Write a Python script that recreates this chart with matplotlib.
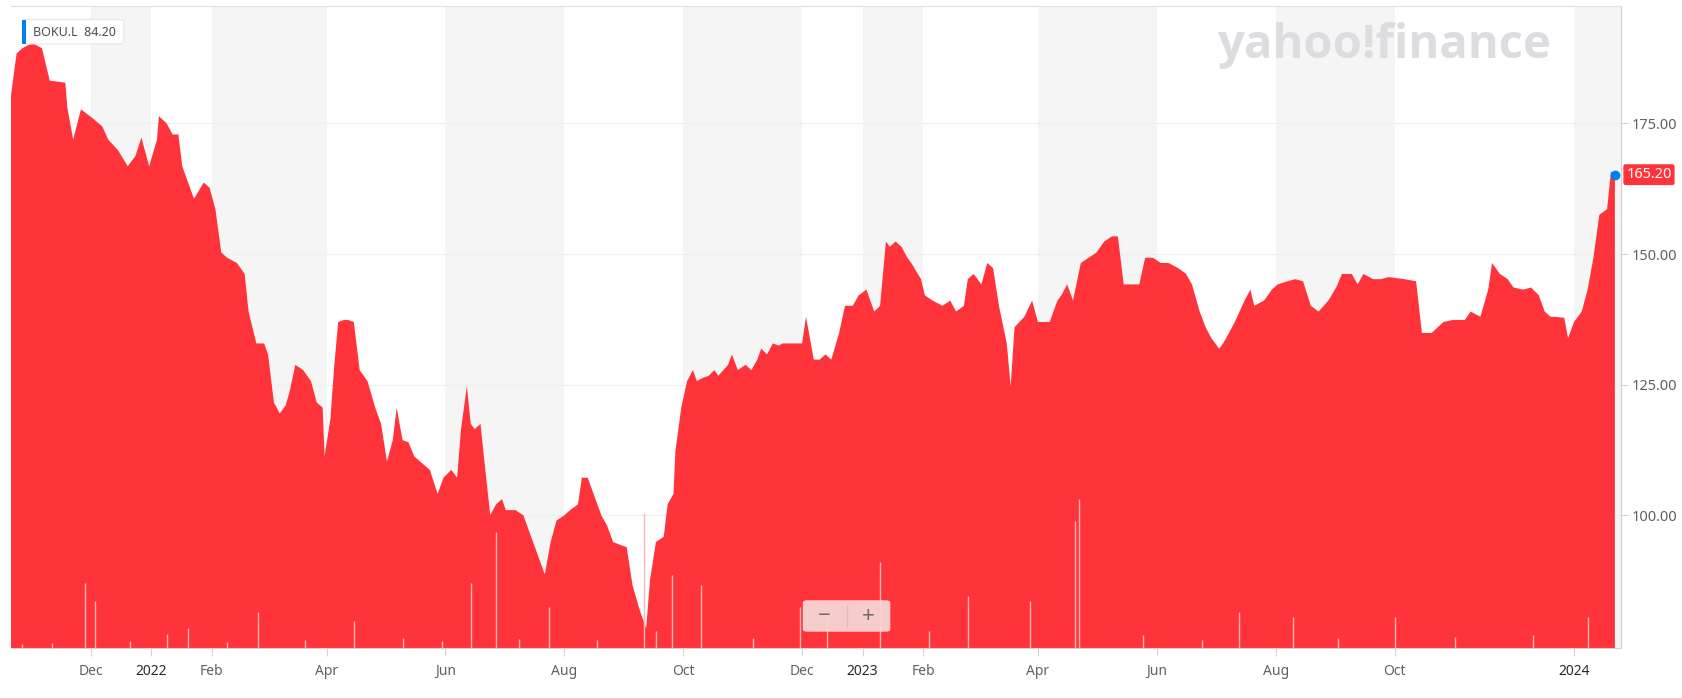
import datetime as dt
import matplotlib
matplotlib.use("Agg")
import matplotlib.pyplot as plt
import matplotlib.dates as mdates
from matplotlib.patches import FancyBboxPatch, Rectangle

plt.rcParams['font.family'] = ['Noto Sans', 'DejaVu Sans']

# price series: days since 2021-12-01, close (GBp)
day = [-41, -38, -35, -30, -25, -21, -13, -12, -9, -5, 1, 6, 9, 14, 19, 23, 26, 30, 34, 35,
       39, 42, 45, 47, 50, 53, 58, 61, 64, 67, 70, 75, 79, 81, 85, 89, 91, 94, 97, 100,
       102, 105, 109, 113, 116, 119, 120, 123, 125, 127, 130, 132, 135, 138, 142, 146, 149, 152, 155, 157,
       160, 163, 166, 169, 174, 178, 181, 185, 188, 190, 193, 195, 197, 200, 202, 205, 208, 211, 213, 218,
       222, 225, 229, 233, 236, 239, 243, 246, 250, 252, 255, 259, 262, 265, 268, 272, 275, 278, 282, 284,
       285, 287, 290, 294, 296, 299, 300, 303, 306, 309, 311, 314, 317, 320, 322, 327, 329, 332, 336, 339,
       342, 344, 347, 350, 353, 355, 361, 365, 367, 371, 374, 377, 380, 384, 387, 391, 394, 398, 402, 405,
       408, 410, 413, 416, 419, 421, 426, 428, 432, 437, 441, 444, 448, 450, 453, 457, 460, 463, 466, 470,
       472, 474, 479, 483, 486, 492, 496, 498, 501, 504, 508, 512, 516, 520, 524, 527, 530, 534, 538, 541,
       545, 549, 553, 558, 562, 565, 569, 572, 575, 579, 581, 584, 587, 592, 595, 597, 602, 606, 609, 614,
       618, 622, 626, 630, 635, 639, 642, 647, 650, 653, 658, 662, 666, 674, 680, 683, 688, 694, 699, 705,
       708, 713, 717, 719, 723, 727, 730, 735, 739, 743, 746, 749, 751, 756, 758, 761, 765, 768, 771, 774,
       778, 780, 782]
close = [180.1, 188.4, 189.4, 190.4, 189.4, 183.2, 182.8, 178.1, 171.9, 177.7, 176.0, 174.4, 171.9, 169.9, 166.8, 168.8, 172.3, 166.8, 171.9, 176.4,
         175.0, 172.9, 172.9, 166.8, 163.7, 160.6, 163.7, 162.7, 158.6, 150.3, 149.3, 148.3, 146.2, 139.0, 132.9, 132.9, 130.8, 121.6, 119.5, 121.0,
         123.6, 128.8, 127.8, 125.7, 121.6, 120.6, 111.3, 118.5, 128.8, 137.0, 137.4, 137.4, 137.0, 127.8, 125.7, 120.6, 117.5, 110.3, 114.4, 120.6,
         114.4, 114.0, 111.3, 110.3, 108.7, 104.1, 107.2, 108.7, 107.2, 116.5, 124.7, 117.5, 116.5, 117.5, 110.3, 100.0, 102.1, 103.1, 101.0, 101.0,
         100.0, 96.9, 92.8, 88.7, 94.9, 99.0, 100.0, 101.0, 102.1, 107.2, 107.2, 103.1, 100.0, 98.0, 94.9, 94.3, 93.9, 86.6, 81.5, 79.5,
         78.4, 87.7, 94.9, 95.9, 102.1, 104.1, 112.3, 120.6, 125.7, 127.8, 125.7, 126.3, 126.7, 127.8, 126.7, 128.8, 130.8, 127.8, 128.8, 127.8,
         129.8, 131.9, 130.8, 132.9, 132.5, 132.9, 132.9, 132.9, 138.0, 129.8, 129.8, 130.8, 129.8, 134.9, 140.1, 140.1, 142.1, 143.2, 139.0, 140.1,
         152.4, 151.4, 152.4, 151.4, 149.3, 148.3, 145.2, 142.1, 141.1, 140.1, 141.1, 139.0, 140.1, 145.2, 146.2, 144.2, 148.3, 147.3, 140.1, 132.9,
         124.7, 136.0, 138.0, 141.1, 137.0, 137.0, 141.1, 142.1, 144.2, 141.1, 148.3, 149.3, 150.3, 152.4, 153.4, 153.4, 144.2, 144.2, 144.2, 149.3,
         149.3, 148.3, 148.3, 147.3, 146.2, 144.2, 139.0, 136.0, 133.9, 131.9, 132.9, 134.9, 137.0, 141.1, 143.2, 140.1, 141.1, 143.2, 144.2, 144.8,
         145.2, 144.8, 140.1, 139.0, 141.1, 143.6, 146.2, 146.2, 144.2, 146.2, 145.2, 145.2, 145.6, 145.2, 144.8, 134.9, 134.9, 137.0, 137.4, 137.4,
         139.0, 138.0, 143.2, 148.3, 146.2, 145.2, 143.6, 143.2, 143.6, 142.1, 139.0, 138.0, 138.0, 137.8, 133.9, 137.0, 139.0, 143.2, 149.3, 157.5,
         158.6, 165.8, 165.2]

# volume (thousand shares): days since 2021-12-01
vol_day = [-35, -20, -3, 2, 20, 39, 50, 70, 86, 110, 135, 160, 180, 195, 208, 220, 235, 260, 284, 290,
           298, 313, 340, 364, 378, 405, 430, 450, 482, 505, 507, 540, 570, 589, 617, 640, 669, 700, 740, 768]
vol = [30, 40, 600, 430, 60, 130, 180, 50, 330, 70, 250, 90, 60, 600, 1080, 80, 380, 70, 1250, 150,
       680, 580, 90, 380, 330, 800, 150, 480, 430, 1180, 1380, 120, 70, 330, 280, 90, 280, 100, 120, 280]

tick_dates = ["2021-12-01", "2022-01-01", "2022-02-01", "2022-04-01", "2022-06-01", "2022-08-01",
              "2022-10-01", "2022-12-01", "2023-01-01", "2023-02-01", "2023-04-01", "2023-06-01",
              "2023-08-01", "2023-10-01", "2024-01-01"]
tick_labels = ["Dec", "2022", "Feb", "Apr", "Jun", "Aug", "Oct", "Dec", "2023", "Feb", "Apr", "Jun",
               "Aug", "Oct", "2024"]
y_ticks = [100, 125, 150, 175]

base = dt.datetime(2021, 12, 1)
dates = [base + dt.timedelta(days=d) for d in day]
vdates = [base + dt.timedelta(days=d) for d in vol_day]
ticks = [dt.datetime.fromisoformat(t) for t in tick_dates]
x0 = dt.datetime(2021, 10, 21)
x1 = dt.datetime(2024, 1, 25)

RED = '#ff333a'
GREY = '#5b636a'

fig = plt.figure(figsize=(16.83, 6.98), dpi=100)
ax = fig.add_axes([0.0064, 0.0723, 0.963 - 0.0064, 0.9908 - 0.0723])

# alternating background bands between the tick labels
edges = [x0] + ticks + [x1]
for i in range(len(edges) - 1):
    if i % 2 == 1:
        ax.axvspan(edges[i], edges[i + 1], color='#f5f5f5', lw=0, zorder=0)

for y in y_ticks:
    ax.axhline(y, color='#efefef', lw=0.8, zorder=1)

ax.fill_between(dates, close, 0, color=RED, lw=0, zorder=2)

ax2 = ax.twinx()
ax2.vlines(vdates, 0, vol, color='#ffb6b8', lw=1.0, zorder=3)
ax2.set_ylim(0, 5970)
ax2.axis('off')

ax.set_xlim(x0, x1)
ax.set_ylim(74.7, 197.4)
ax.set_xticks(ticks)
ax.set_xticklabels(tick_labels)
for lbl, txt in zip(ax.get_xticklabels(), tick_labels):
    if txt.isdigit():
        lbl.set_fontweight('bold')
        lbl.set_color('#232a31')
    else:
        lbl.set_color(GREY)
ax.tick_params(axis='x', length=6, color='#d0d3d6', labelsize=10, pad=6)
ax.yaxis.tick_right()
ax.set_yticks(y_ticks)
ax.set_yticklabels([f"{v:.2f}" for v in y_ticks])
ax.tick_params(axis='y', length=5, color='#d0d3d6', labelsize=10.5, labelcolor=GREY, pad=3)
for s in ['left']:
    ax.spines[s].set_visible(False)
ax.spines['right'].set_color('#d0d3d6')
ax.spines['bottom'].set_color('#d0d3d6')
ax.spines['top'].set_color('#e0e0e6')

# last price marker and label
ax.plot([dates[-1]], [close[-1]], 'o', color='#0081f2', ms=6, zorder=5, clip_on=False)
ax.annotate(f"{close[-1]:.2f}", xy=(1.0, close[-1]), xycoords=('axes fraction', 'data'),
            xytext=(4, 0), textcoords='offset points', va='center', ha='left',
            color='white', fontsize=10.5, fontweight='bold',
            bbox=dict(boxstyle='round,pad=0.2,rounding_size=0.15', fc=RED, ec='none'))

# watermark
fig.text(0.922, 0.935, "yahoo!finance", ha='right', va='center', fontsize=34,
         fontweight='bold', color='#dcdde0', family=['Open Sans', 'DejaVu Sans'])

# tooltip box
fig.patches.append(FancyBboxPatch((0.0135, 0.937), 0.06, 0.035, boxstyle='round,pad=0,rounding_size=0.003',
                                  transform=fig.transFigure, fc='white', ec='#e6e6e6', lw=0.8, zorder=10))
fig.patches.append(Rectangle((0.0128, 0.937), 0.0025, 0.035, transform=fig.transFigure,
                             fc='#0081f2', ec='none', zorder=11))
fig.text(0.0195, 0.954, "BOKU.L  84.20", fontsize=9, color='#464e56', va='center', zorder=12)

# zoom control
fig.patches.append(FancyBboxPatch((0.477, 0.095), 0.052, 0.045, boxstyle='round,pad=0,rounding_size=0.003',
                                  transform=fig.transFigure, fc='#f7d5d6', ec='none', alpha=0.95, zorder=10))
fig.text(0.490, 0.117, "\u2212", fontsize=16, fontweight='bold', color='#7a6a6b', ha='center', va='center', zorder=11)
fig.text(0.516, 0.117, "+", fontsize=16, fontweight='bold', color='#7a6a6b', ha='center', va='center', zorder=11)
fig.lines.append(plt.Line2D([0.503, 0.503], [0.102, 0.133], transform=fig.transFigure, color='#e8b8ba', lw=1, zorder=11))

fig.savefig("out.png", dpi=100)
